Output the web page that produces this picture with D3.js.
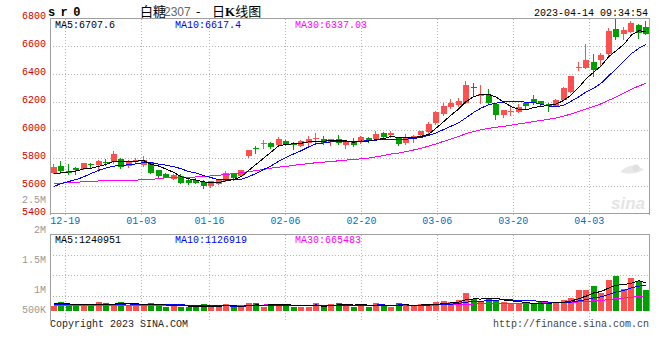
<!DOCTYPE html>
<html><head><meta charset="utf-8">
<script src="https://cdn.jsdelivr.net/npm/d3@7"></script>
<style>body{margin:0;background:#fff;}svg{display:block;}</style>
</head><body>
<svg id="c" width="660" height="360"></svg>
<script>
// ---------- DATA ----------
const dates = ["12-15","12-16","12-19","12-20","12-21","12-22","12-23","12-26","12-27","12-28",
"12-29","12-30","01-03","01-04","01-05","01-06","01-09","01-10","01-11","01-12",
"01-13","01-16","01-17","01-18","01-19","01-20","01-30","01-31","02-01","02-02",
"02-03","02-06","02-07","02-08","02-09","02-10","02-13","02-14","02-15","02-16",
"02-17","02-20","02-21","02-22","02-23","02-24","02-27","02-28","03-01","03-02",
"03-03","03-06","03-07","03-08","03-09","03-10","03-13","03-14","03-15","03-16",
"03-17","03-20","03-21","03-22","03-23","03-24","03-27","03-28","03-29","03-30",
"03-31","04-03","04-04","04-06","04-07","04-10","04-11","04-12","04-13","04-14"];
const tickDates = ["12-19","01-03","01-16","02-06","02-20","03-06","03-20","04-03"];
const priceTicks = [6800,6600,6400,6200,6000,5800,5600,5400];
const volTickLabels = ["2.5M","2M","1.5M","1M","500K"];
const volTickValues = [2500000,2000000,1500000,1000000,500000];
const priceLegend = ["MA5:6707.6","MA10:6617.4","MA30:6337.03"];
const volLegend = ["MA5:1240951","MA10:1126919","MA30:665483"];

const open = [5700,5750,5714,5730,5725,5760,5755,5776,5772,5795,
 5745,5772,5754,5774,5716,5686,5655,5672,5647,5643,
 5631,5607,5621,5638,5693,5676,5816,5876,5905,5911,
 5897,5924,5907,5890,5914,5936,5938,5921,5938,5897,
 5926,5916,5950,5938,5979,5965,5950,5914,5940,5969,
 5986,6057,6116,6166,6181,6200,6311,6245,6257,6186,
 6109,6129,6133,6197,6224,6209,6188,6176,6221,6276,
 6443,6447,6490,6502,6545,6724,6686,6703,6757,6736];
const high = [5760,5780,5759,5740,5768,5771,5786,5800,5852,5807,
 5788,5807,5819,5776,5716,5697,5686,5690,5655,5659,
 5643,5640,5648,5711,5700,5720,5862,5890,5931,5918,
 5954,5930,5916,5930,5959,5981,5959,5938,5969,5930,
 5943,5960,5955,5997,5990,5995,5957,5974,5967,5998,
 6059,6137,6200,6224,6229,6352,6336,6324,6295,6190,
 6150,6181,6186,6200,6257,6214,6195,6224,6311,6390,
 6486,6616,6550,6555,6730,6795,6736,6781,6762,6781];
const low = [5693,5693,5686,5686,5722,5740,5712,5752,5770,5729,
 5738,5770,5747,5693,5664,5665,5650,5624,5620,5622,
 5590,5600,5618,5636,5645,5672,5812,5840,5876,5876,
 5895,5897,5866,5886,5900,5912,5907,5893,5907,5878,
 5888,5912,5919,5935,5940,5952,5900,5904,5921,5966,
 5983,6047,6109,6163,6178,6195,6252,6200,6195,6081,
 6097,6109,6130,6157,6188,6174,6140,6172,6219,6274,
 6431,6445,6390,6471,6540,6657,6657,6700,6662,6686];
const close = [5736,5714,5697,5716,5766,5756,5783,5770,5831,5736,
 5779,5791,5786,5697,5676,5669,5679,5626,5626,5628,
 5607,5636,5645,5693,5664,5716,5859,5865,5911,5884,
 5938,5902,5895,5924,5936,5947,5912,5936,5912,5924,
 5897,5954,5931,5974,5954,5979,5904,5950,5964,5995,
 6050,6133,6176,6200,6209,6324,6300,6259,6197,6109,
 6145,6138,6169,6176,6193,6186,6174,6216,6304,6388,
 6452,6502,6433,6540,6710,6668,6720,6765,6695,6690];
const ma5 = [5693,5697,5704,5711,5726,5730,5744,5758,5781,5775,
 5780,5781,5785,5758,5746,5724,5701,5669,5655,5646,
 5633,5625,5628,5642,5649,5671,5715,5759,5803,5847,
 5891,5900,5906,5909,5919,5921,5923,5931,5929,5926,
 5916,5925,5924,5936,5942,5958,5948,5952,5950,5958,
 5973,6018,6064,6111,6154,6208,6242,6258,6258,6238,
 6202,6170,6152,6147,6164,6172,6180,6189,6215,6254,
 6307,6372,6416,6463,6527,6571,6614,6681,6712,6708];
const ma10 = [5600,5621,5636,5650,5669,5693,5716,5733,5745,5751,
 5755,5762,5771,5770,5760,5752,5741,5727,5706,5696,
 5678,5663,5649,5648,5647,5652,5670,5694,5722,5748,
 5781,5808,5833,5856,5883,5906,5911,5919,5919,5923,
 5919,5924,5927,5932,5934,5937,5937,5938,5943,5950,
 5966,5983,6008,6031,6056,6091,6130,6161,6184,6196,
 6205,6206,6205,6203,6201,6187,6175,6170,6181,6209,
 6240,6276,6302,6339,6391,6439,6493,6548,6587,6617];
const ma30 = [5621,5622,5631,5631,5633,5635,5640,5640,5641,5641,
 5642,5645,5652,5652,5655,5664,5664,5665,5666,5668,
 5670,5676,5680,5686,5692,5698,5706,5714,5722,5731,
 5738,5744,5751,5758,5764,5770,5774,5780,5783,5789,
 5793,5798,5803,5812,5821,5832,5839,5850,5861,5874,
 5888,5905,5923,5940,5958,5978,5993,6006,6015,6023,
 6030,6038,6047,6055,6064,6072,6080,6090,6103,6118,
 6137,6155,6172,6191,6216,6239,6266,6293,6318,6337];
// volume in thousands of lots
const volume = [238,383,326,220,220,220,383,352,326,383,
 282,238,238,352,295,194,220,194,176,194,
 295,194,194,295,176,176,352,352,194,295,
 295,295,176,176,176,352,176,295,352,295,
 176,295,176,339,220,176,339,295,220,295,
 263,380,458,380,497,772,537,447,576,486,
 380,341,290,341,341,380,368,392,470,587,
 905,920,1100,780,1360,1530,990,1470,1300,915];
const vma5 = [330,320,310,300,277,274,274,279,300,333,
 345,316,293,299,281,263,260,251,216,196,
 216,211,211,234,231,207,239,270,250,274,
 298,286,251,247,224,235,211,235,270,294,
 259,283,259,256,241,241,250,274,250,265,
 282,291,323,355,396,497,529,527,566,564,
 485,446,415,368,339,339,344,364,390,439,
 544,655,796,858,1013,1138,1152,1226,1330,1241];
const vma10 = [285,285,283,282,280,280,282,285,290,305,
 310,295,286,299,307,304,288,272,257,238,
 240,235,231,225,213,211,225,240,242,252,
 252,262,261,249,249,266,249,243,259,259,
 247,247,247,263,268,250,266,266,253,253,
 262,270,299,303,330,390,410,425,461,480,
 491,487,471,467,451,412,395,390,379,389,
 442,499,580,624,726,841,903,1011,1094,1127];
const vma30 = [240,240,241,241,242,242,243,244,245,246,
 247,248,249,250,251,252,253,254,255,256,
 257,258,259,260,261,262,263,263,264,265,
 267,264,259,258,256,261,254,252,253,250,
 246,248,246,246,243,243,247,250,251,255,
 254,260,269,272,282,302,308,311,324,331,
 333,335,339,344,350,351,357,360,364,374,
 398,419,450,465,503,548,569,609,645,665];

// ---------- LAYOUT ----------
const L = 50, R = 650;
const pTop = 18.5, pBot = 214.5;
const vTop = 234.5, vBase = 311, vBot = 311;
const RED = "#ff5050", GREEN = "#00a000";
const MONO = "'Liberation Mono', 'DejaVu Sans Mono', monospace";
const N = dates.length;
const idx = d3.range(N);

const svg = d3.select("#c");
const xb = d3.scaleBand().domain(idx).range([L, R]);
const xp = d3.scalePoint().domain(dates).range([L, R]);
const y = d3.scaleLinear().domain([5400, 6800]).range([pBot, pTop]);
const yv = d3.scaleLinear().domain([0, 1000]).range([vBase, vBase - 1000 / 44]);
const yvLab = d3.scaleLinear().domain([2500000, 1000000]).range([200, 289.7]);

const bodyX = i => Math.round(xb(i) + 0.75);
const cxPix = i => bodyX(i) + 2.5;

// ---------- GRID ----------
const grid = svg.append("g").attr("stroke", "#b4b4b4").attr("stroke-dasharray", "1,2")
  .attr("shape-rendering", "crispEdges");
priceTicks.filter(v => v !== 6800 && v !== 5400).forEach(v => {
  grid.append("line").attr("x1", L).attr("x2", R).attr("y1", Math.floor(y(v)) + 0.5).attr("y2", Math.floor(y(v)) + 0.5);
});
[1, 2, 3].forEach(k => {
  const yy = Math.round(234 + 20.7 * k) + 0.5;
  grid.append("line").attr("x1", L).attr("x2", R).attr("y1", yy).attr("y2", yy);
});
tickDates.forEach(d => {
  const xx = Math.floor(xp(d)) + 0.5;
  grid.append("line").attr("x1", xx).attr("x2", xx).attr("y1", pTop).attr("y2", pBot);
  grid.append("line").attr("x1", xx).attr("x2", xx).attr("y1", vTop).attr("y2", 321);
});

// ---------- BORDERS ----------
const border = svg.append("g").attr("stroke", "#a0a0a0").attr("fill", "none").attr("shape-rendering", "crispEdges");
border.append("path").attr("d", `M${L + 0.5},${pBot}V${pTop}H${R - 0.5}V${pBot}`);
border.append("line").attr("x1", L).attr("x2", R).attr("y1", Math.floor(y(5400)) - 0.5).attr("y2", Math.floor(y(5400)) - 0.5);
border.append("path").attr("d", `M${L + 0.5},321V${vTop}H${R - 0.5}V${vBot}`);

// ---------- WATERMARK ----------
const wm = svg.append("g").attr("fill", "#e4e4e4");
wm.append("text").attr("x", 611).attr("y", 209).attr("font-family", "Arial, 'Liberation Sans', sans-serif")
  .attr("font-size", 17).attr("font-weight", "bold").attr("font-style", "italic").text("sina");
wm.append("path").attr("d", "M620,172 q12,-12 24,-2 q-12,6 -24,2 z").attr("fill", "#e8e8e8");
wm.append("circle").attr("cx", 636).attr("cy", 168).attr("r", 3.5).attr("fill", "#e0e0e0");

// ---------- CANDLES ----------
svg.append("clipPath").attr("id", "cp").append("rect")
  .attr("x", L + 1).attr("y", pTop + 0.5).attr("width", R - L - 2).attr("height", pBot - pTop - 1);
const cg = svg.append("g").attr("shape-rendering", "crispEdges");
idx.forEach(i => {
  const up = close[i] >= open[i];
  const col = up ? RED : GREEN;
  const wx = cxPix(i);
  cg.append("line").attr("x1", wx).attr("x2", wx)
    .attr("y1", Math.round(y(high[i]))).attr("y2", Math.round(y(low[i])) + 1).attr("stroke", col);
  const top = Math.round(y(Math.max(open[i], close[i])));
  const bot = Math.round(y(Math.min(open[i], close[i])));
  cg.append("rect").attr("x", bodyX(i)).attr("width", 6)
    .attr("y", top).attr("height", Math.max(1, bot - top)).attr("fill", col);
});

// ---------- PRICE MAs ----------
const lineP = arr => d3.line().x((d, i) => xb(i) + xb.bandwidth() / 2).y(d => y(d))(arr);
const mg = svg.append("g").attr("clip-path", "url(#cp)").attr("fill", "none").attr("shape-rendering", "crispEdges");
mg.append("path").attr("d", lineP(ma30)).attr("stroke", "#ff00ff");
mg.append("path").attr("d", lineP(ma10)).attr("stroke", "#0000ff");
mg.append("path").attr("d", lineP(ma5)).attr("stroke", "#000000");

// ---------- VOLUME ----------
const vg = svg.append("g").attr("shape-rendering", "crispEdges");
idx.forEach(i => {
  const col = close[i] >= open[i] ? RED : GREEN;
  const t = Math.round(yv(volume[i]));
  vg.append("rect").attr("x", bodyX(i)).attr("width", 6).attr("y", t).attr("height", vBase - t).attr("fill", col);
});
const lineV = arr => d3.line().x((d, i) => xb(i) + xb.bandwidth() / 2).y(d => yv(d))(arr);
const vm = svg.append("g").attr("fill", "none").attr("shape-rendering", "crispEdges");
vm.append("path").attr("d", lineV(vma30)).attr("stroke", "#ff00ff");
vm.append("path").attr("d", lineV(vma10)).attr("stroke", "#0000ff");
vm.append("path").attr("d", lineV(vma5)).attr("stroke", "#000000");

// ---------- TEXT ----------
const txt = (x, yy, s, fill, anchor, size, extra) => {
  const t = svg.append("text").attr("x", x).attr("y", yy).attr("fill", fill)
    .attr("text-anchor", anchor || "start").attr("font-family", MONO).attr("font-size", size || 10).text(s);
  if (extra) extra(t);
  return t;
};
priceTicks.forEach(v => txt(46, y(v) + 0.5, String(v), "#d00000", "end"));
volTickLabels.forEach((s, k) => txt(46, Math.min(313, yvLab(volTickValues[k]) + 3.3), s, "#999999", "end"));
tickDates.forEach(d => txt(xp(d), 224, d, "#0070c0", "middle"));

const legendColors = ["#000000", "#0000ff", "#ff00ff"];
const legendX = [55, 175, 295];
priceLegend.forEach((s, k) => txt(legendX[k], 27.5, s, legendColors[k]));
volLegend.forEach((s, k) => txt(legendX[k], 242.5, s, legendColors[k]));

// header
txt(48, 15.5, "s r 0", "#000", "start", 12, t => t.attr("font-weight", "bold").attr("letter-spacing", "-0.9px"));
txt(648, 15.6, "2023-04-14 09:34:54", "#000", "end");
const title = svg.append("text").attr("y", 16).attr("font-size", 13)
  .attr("font-family", "'Noto Sans CJK SC', sans-serif").attr("fill", "#000");
title.append("tspan").attr("x", 140).text("白糖");
title.append("tspan").attr("x", 164).attr("fill", "#666").attr("font-family", "'Liberation Sans', Arial, sans-serif").attr("font-size", 12).text("2307");
title.append("tspan").attr("x", 196).text("-");
title.append("tspan").attr("x", 212).text("日");
title.append("tspan").attr("font-weight", "bold").attr("font-family", "'Liberation Serif', serif").text("K");
title.append("tspan").text("线图");

// footer
txt(50, 327, "Copyright 2023 SINA.COM", "#222");
txt(649, 327, "http://finance.sina.com.cn", "#444", "end");
</script>
</body></html>
